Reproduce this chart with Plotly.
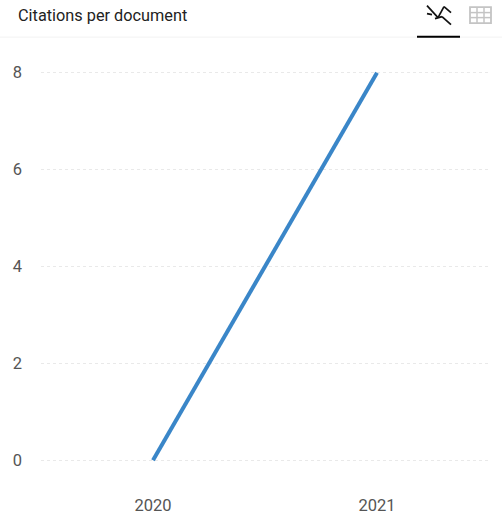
import plotly.graph_objects as go

years = ["2020", "2021"]
citations = [0, 8]
y_ticks = [0, 2, 4, 6, 8]
title_text = "Citations per document"

W, H = 502, 515
Y_LOW, Y_HIGH = -0.2, 8.2
L, R, T, B = 41, 13, 63.325, 45.325

def px(x):
    return (x - L) / (W - L - R)

def py(y):
    return 1 - (y - T) / (H - T - B)

def seg(x0, y0, x1, y1, color, width):
    return dict(type="line", xref="paper", yref="paper", x0=px(x0), y0=py(y0), x1=px(x1), y1=py(y1),
                line=dict(color=color, width=width), layer="above")

ICON = "#111111"
GREY = "#c4c4c4"
shapes = [
    seg(0, 37.5, 502, 37.5, "#f2f2f2", 1),
    seg(417, 37, 460, 37, "#000000", 2),
    # chart icon
    seg(427, 6, 438, 18, ICON, 1.7),
    seg(438, 18, 444, 7, ICON, 1.7),
    seg(444, 7, 451, 13, ICON, 1.7),
    seg(435, 19, 442, 17, ICON, 1.7),
    seg(442, 17, 451, 25, ICON, 1.7),
    seg(427, 14, 432, 15, ICON, 1.7),
]
# table icon
shapes.append(dict(type="rect", xref="paper", yref="paper", x0=px(470), y0=py(7.5), x1=px(491), y1=py(23.5),
                   line=dict(color=GREY, width=1.8), fillcolor="#ffffff", layer="above"))
for gx in (477, 484):
    shapes.append(seg(gx, 7.5, gx, 23.5, GREY, 1.5))
for gy in (13, 18):
    shapes.append(seg(470, gy, 491, gy, GREY, 1.5))

fig = go.Figure(go.Scatter(
    x=years, y=citations, mode="lines",
    line=dict(color="#3a86c8", width=4),
    cliponaxis=False, hoverinfo="x+y",
))

fig.update_layout(
    width=W, height=H, autosize=False,
    margin=dict(l=L, r=R, t=T, b=B, autoexpand=False),
    paper_bgcolor="#ffffff", plot_bgcolor="#ffffff",
    showlegend=False,
    font=dict(family="Roboto, sans-serif", size=16, color="#555555"),
    xaxis=dict(type="category", range=[-0.5, 1.5], showgrid=False, zeroline=False, showline=False, automargin=False,
               ticks="", tickfont=dict(size=16.5, color="#555555"), ticklabelstandoff=23),
    yaxis=dict(range=[Y_LOW, Y_HIGH], tickvals=y_ticks, showgrid=True, griddash="dot", gridcolor="#e9e9e9", gridwidth=1,
               zeroline=False, showline=False, ticks="", automargin=False,
               tickfont=dict(size=16.5, color="#555555"), ticklabelstandoff=18),
    shapes=shapes,
    annotations=[dict(text=title_text, xref="paper", yref="paper", x=px(18), y=py(16), xanchor="left", yanchor="middle",
                      xshift=-2, showarrow=False, font=dict(size=16.3, color="#222222", family="Roboto, sans-serif"))],
)

fig.write_html("out.html", config=dict(displayModeBar=False),
               post_script="document.body.style.margin='0';document.documentElement.style.overflow='hidden';")
